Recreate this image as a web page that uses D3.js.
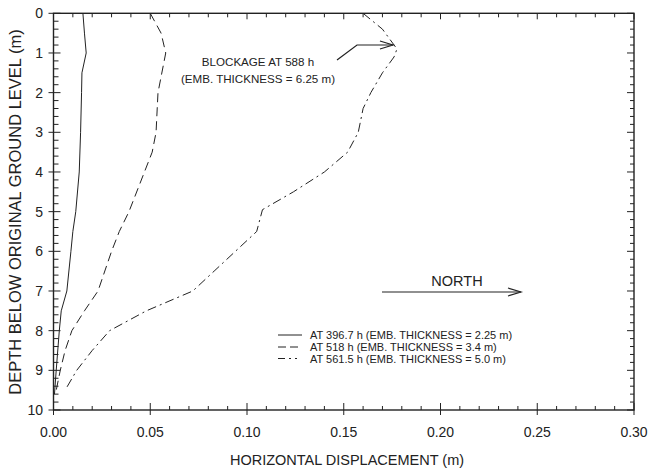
<!DOCTYPE html>
<html><head><meta charset="utf-8">
<script src="https://cdn.jsdelivr.net/npm/d3@7"></script>
<style>body{margin:0;background:#fff}svg{display:block;font-family:"Liberation Sans",Arial,sans-serif}</style>
</head><body><svg id="c" width="648" height="471"></svg>
<script>
// Data: [depth (m), horizontal displacement (m)]
const solid396 = [[0,0.0152],[0.5,0.0160],[1.0,0.0169],[1.5,0.0147],[2.0,0.0145],[3.0,0.0140],[4.0,0.0133],[5.0,0.0115],[5.5,0.0100],[6.0,0.0090],[7.0,0.0069],[7.5,0.0040],[8.0,0.0030],[9.0,0.0014],[9.6,0.0005]];
const dashed518 = [[0,0.050],[0.5,0.0556],[1.0,0.058],[2.0,0.054],[3.0,0.053],[3.5,0.051],[4.0,0.047],[5.0,0.039],[5.5,0.034],[6.0,0.030],[7.0,0.023],[7.5,0.016],[8.0,0.0095],[8.5,0.006],[9.0,0.0035],[9.6,0.001]];
const dashdot561 = [[0,0.160],[0.4,0.170],[0.9,0.1775],[1.1,0.176],[1.5,0.170],[2.0,0.164],[2.4,0.160],[3.0,0.1575],[3.5,0.152],[4.0,0.140],[4.5,0.124],[4.95,0.108],[5.5,0.105],[6.0,0.094],[6.5,0.083],[7.0,0.072],[7.5,0.048],[8.0,0.029],[8.5,0.020],[9.0,0.012],[9.5,0.006]];
const seriesLabels = ["AT 396.7 h (EMB. THICKNESS = 2.25 m)","AT 518 h (EMB. THICKNESS = 3.4 m)","AT 561.5 h (EMB. THICKNESS = 5.0 m)"];
const xTicks = [0,0.05,0.10,0.15,0.20,0.25,0.30];
const yTicks = [0,1,2,3,4,5,6,7,8,9,10];
const blockageLabel = ["BLOCKAGE AT 588 h","(EMB. THICKNESS = 6.25 m)"];
const blockagePoint = [0.9,0.1775];

const svg = d3.select("#c");
const L=53.5, R=634, T=13.3, B=410;
const x = d3.scaleLinear().domain([0,0.30]).range([L,R]);
const y = d3.scaleLinear().domain([0,10]).range([T,B]);
const ink="#222";

// frame
svg.append("rect").attr("x",L).attr("y",T).attr("width",R-L).attr("height",B-T)
  .attr("fill","none").attr("stroke",ink).attr("stroke-width",1.4);

// ticks
const xMinor = d3.range(0,0.3001,0.01);
xMinor.forEach((v,i)=>{
  const major = i%5===0;
  const px=x(v);
  svg.append("line").attr("x1",px).attr("x2",px).attr("y1",B+(major?5:0)).attr("y2",B-(major?7:4)).attr("stroke",ink).attr("stroke-width",1);
  svg.append("line").attr("x1",px).attr("x2",px).attr("y1",T).attr("y2",T+(major?6:4)).attr("stroke",ink).attr("stroke-width",1);
});
const yMinor = d3.range(0,10.001,0.2);
yMinor.forEach((v,i)=>{
  const major = i%5===0;
  const py=y(v);
  svg.append("line").attr("y1",py).attr("y2",py).attr("x1",L-(major?5:0)).attr("x2",L+(major?7:5)).attr("stroke",ink).attr("stroke-width",1);
  svg.append("line").attr("y1",py).attr("y2",py).attr("x1",R).attr("x2",R-(major?7:4)).attr("stroke",ink).attr("stroke-width",1);
});
svg.selectAll(".xl").data(xTicks).enter().append("text")
  .attr("x",d=>x(d)).attr("y",437).attr("text-anchor","middle").attr("font-size",14).attr("fill",ink)
  .text(d=>d3.format(".2f")(d));
svg.selectAll(".yl").data(yTicks).enter().append("text")
  .attr("x",43).attr("y",d=>y(d)+5).attr("text-anchor","end").attr("font-size",14).attr("fill",ink)
  .text(d=>d);
svg.append("text").attr("x",347).attr("y",465).attr("text-anchor","middle").attr("font-size",14.5).attr("fill",ink)
  .text("HORIZONTAL DISPLACEMENT (m)");
svg.append("text").attr("transform","translate(21,212) rotate(-90)").attr("text-anchor","middle").attr("font-size",16.5).attr("fill",ink)
  .text("DEPTH BELOW ORIGINAL GROUND LEVEL (m)");

// curves
const line = d3.line().x(d=>x(d[1])).y(d=>y(d[0]));
const styles = [null,"9,5","9,4,2,4"];
[solid396,dashed518,dashdot561].forEach((s,i)=>{
  const p=svg.append("path").datum(s).attr("d",line).attr("fill","none").attr("stroke",ink).attr("stroke-width",1);
  if(styles[i]) p.attr("stroke-dasharray",styles[i]);
});

// legend
const legY=[335,347,358.5];
const legStyles=[null,"8,4","7,4,2,4,2,5"];
seriesLabels.forEach((t,i)=>{
  const l=svg.append("line").attr("x1",278).attr("x2",302).attr("y1",legY[i]).attr("y2",legY[i]).attr("stroke",ink).attr("stroke-width",1);
  if(legStyles[i]) l.attr("stroke-dasharray",legStyles[i]);
  svg.append("text").attr("x",310).attr("y",legY[i]+4).attr("font-size",11).attr("fill",ink).text(t);
});

// blockage annotation
svg.append("text").attr("x",258).attr("y",66).attr("text-anchor","middle").attr("font-size",11.6).attr("fill",ink).text(blockageLabel[0]);
svg.append("text").attr("x",258).attr("y",83).attr("text-anchor","middle").attr("font-size",11.6).attr("fill",ink).text(blockageLabel[1]);
const ax = x(blockagePoint[1])-4, ay = 45;
svg.append("path").attr("d",`M337,60 L357,${ay} L${ax},${ay}`).attr("fill","none").attr("stroke",ink).attr("stroke-width",1.2);
svg.append("path").attr("d",`M${ax-13},${ay-4} L${ax},${ay} L${ax-13},${ay+4}`).attr("fill","none").attr("stroke",ink).attr("stroke-width",1.2);

// north arrow
svg.append("line").attr("x1",382).attr("x2",521).attr("y1",292).attr("y2",292).attr("stroke",ink).attr("stroke-width",1.2);
svg.append("path").attr("d","M508,288 L521,292 L508,296").attr("fill","none").attr("stroke",ink).attr("stroke-width",1.2);
svg.append("text").attr("x",457).attr("y",286).attr("text-anchor","middle").attr("font-size",14.5).attr("fill",ink).text("NORTH");
</script></body></html>
